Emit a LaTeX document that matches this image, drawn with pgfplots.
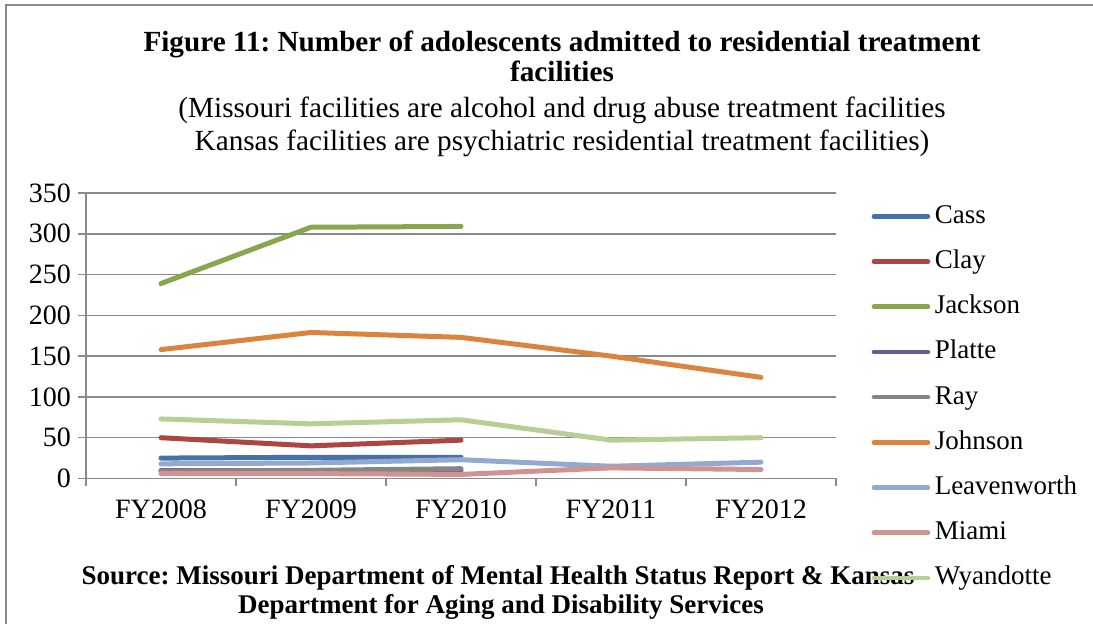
\documentclass[border=0pt]{standalone}
\usepackage{fontspec}
\setmainfont{Liberation Serif}
\usepackage{pgfplots}
\pgfplotsset{compat=1.18}
\definecolor{cass}{HTML}{4572A7}
\definecolor{clay}{HTML}{AA4643}
\definecolor{jackson}{HTML}{89A54E}
\definecolor{platte}{HTML}{71588F}
\definecolor{ray}{HTML}{858585}
\definecolor{johnson}{HTML}{DB843D}
\definecolor{leaven}{HTML}{93A9CF}
\definecolor{miami}{HTML}{D19392}
\definecolor{wyan}{HTML}{B9CD96}
\definecolor{frame}{HTML}{8A8A8A}
\newcommand{\fs}{\fontsize{13.5}{16}\selectfont}
\newcommand{\ft}{\fontsize{14.6}{17}\selectfont}
\newcommand{\fk}{\fontsize{14}{16}\selectfont}
\frenchspacing
\begin{document}
\begin{tikzpicture}[x=0.5pt,y=0.5pt]
\useasboundingbox (0,0) rectangle (1093,624);
\draw[frame, line width=1pt] (6,0) -- (6,619) -- (1093,619);
\node[anchor=base, font=\ft\bfseries, inner sep=0] at (562,572) {Figure 11: Number of adolescents admitted to residential treatment};
\node[anchor=base, font=\ft\bfseries, inner sep=0] at (562,542) {facilities};
\node[anchor=base, font=\ft, inner sep=0] at (562,506) {(Missouri facilities are alcohol and drug abuse treatment facilities};
\node[anchor=base, font=\ft, inner sep=0] at (562,473) {Kansas facilities are psychiatric residential treatment facilities)};
\node[anchor=base, font=\fs\bfseries, inner sep=0] at (498,39) {Source: Missouri Department of Mental Health Status Report \& Kansas};
\node[anchor=base, font=\fs\bfseries, inner sep=0] at (501,10) {Department for Aging and Disability Services};
\begin{axis}[
  at={(43pt,72.75pt)}, anchor=south west,
  scale only axis, width=375pt, height=142.75pt,
  xmin=-0.5, xmax=4.5, ymin=0, ymax=350,
  axis x line=bottom, axis y line=left,
  axis line style={-, frame, line width=0.75pt},
  xtick={-0.5,0.5,1.5,2.5,3.5,4.5}, xticklabels={},
  extra x ticks={0,1,2,3,4},
  extra x tick labels={FY2008,FY2009,FY2010,FY2011,FY2012},
  extra x tick style={major tick length=0pt, xticklabel style={yshift=-7pt}},
  ytick={0,50,...,350},
  ymajorgrids, grid style={frame, line width=0.75pt},
  tick style={frame, line width=0.75pt},
  major tick length=4pt, tick align=outside,
  tick label style={font=\fk},
  /pgf/number format/assume math mode=true,
  every axis plot/.append style={line width=2.5pt, line cap=round, line join=round, mark=none},
  legend cell align=left,
  legend style={at={(1.047,0.965)}, anchor=north west, draw=none, fill=none, inner sep=0pt,
    font=\fs, row sep=9.6pt,
    nodes={inner sep=0pt, text height=10pt, text depth=3pt}},
  legend image code/.code={\draw[#1, line width=2.3pt, line cap=round] (0pt,0pt) -- (27pt,0pt);},
]
\addplot[cass] coordinates {(0,25) (1,26) (2,26)};
\addlegendentry{\,Cass}
\addplot[clay] coordinates {(0,50) (1,40) (2,47)};
\addlegendentry{\,Clay}
\addplot[jackson] coordinates {(0,239) (1,308) (2,309)};
\addlegendentry{\,Jackson}
\addplot[platte] coordinates {(0,10) (1,10) (2,10)};
\addlegendentry{\,Platte}
\addplot[ray] coordinates {(0,9) (1,10) (2,12)};
\addlegendentry{\,Ray}
\addplot[johnson] coordinates {(0,158) (1,179) (2,173) (3,150) (4,124)};
\addlegendentry{\,Johnson}
\addplot[leaven] coordinates {(0,18) (1,19) (2,23) (3,15) (4,20)};
\addlegendentry{\,Leavenworth}
\addplot[miami] coordinates {(0,6) (1,6) (2,5) (3,13) (4,11)};
\addlegendentry{\,Miami}
\addplot[wyan] coordinates {(0,73) (1,67) (2,72) (3,47) (4,50)};
\addlegendentry{\,Wyandotte}
\end{axis}
\end{tikzpicture}
\end{document}
